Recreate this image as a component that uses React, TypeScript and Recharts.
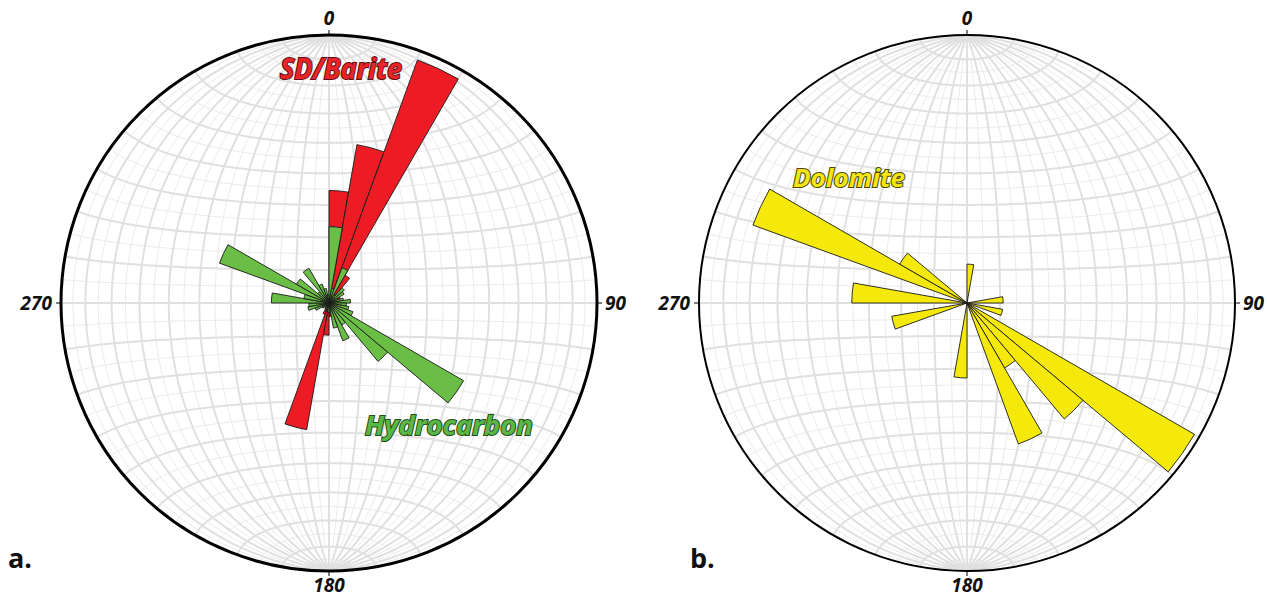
import { RadialBarChart, RadialBar, PolarAngleAxis, PolarRadiusAxis } from "recharts";

// strike bins, 10 degree classes clockwise from north
const directions = [
  "0", "10", "20", "30", "40", "50", "60", "70", "80", "90", "100", "110",
  "120", "130", "140", "150", "160", "170", "180", "190", "200", "210", "220", "230",
  "240", "250", "260", "270", "280", "290", "300", "310", "320", "330", "340", "350"
];

// frequency (%) per bin
const sdBarite = [
  8.4, 12.0, 19.3, 2.4, 1.1, 0, 0.9, 0, 0, 0, 0, 0,
  0, 0, 0, 0, 0, 1.0, 2.4, 9.6, 0.9, 0.5, 0, 0,
  0, 0, 0, 0, 0, 0, 0, 0, 0, 0, 0, 0
];
const hydrocarbon = [
  5.7, 1.1, 2.8, 0.7, 1.5, 1.3, 0.7, 1.1, 1.6, 1.3, 1.5, 1.9,
  11.6, 5.7, 1.9, 3.0, 1.9, 0.7, 0.7, 0.4, 0.6, 0.4, 0.4, 0.6,
  1.1, 1.6, 1.5, 4.3, 1.9, 8.7, 2.8, 1.1, 3.0, 1.5, 1.1, 0.6
];
const dolomite = [
  2.9, 0, 0, 0, 0, 0, 0, 0, 2.7, 0, 2.7, 0,
  19.6, 11.3, 5.6, 11.2, 0, 0, 5.6, 0, 0, 0, 0, 0,
  0, 5.7, 0, 8.6, 0, 17.0, 5.8, 0, 0, 0, 0, 0
];

const cardinalLabels = ["0", "90", "180", "270"];
const maxFreq = 20;

const W = 1267;
const H = 597;
const R = 268;
const panelA = { cx: 329, cy: 303 };
const panelB = { cx: 967, cy: 303 };

const roseA = directions.map((dir, i) => ({ dir, barite: sdBarite[i], hydro: hydrocarbon[i] }));
const roseB = directions.map((dir, i) => ({ dir, dolo: dolomite[i] }));

const rad = (d: number) => (d * Math.PI) / 180;

// Schmidt (equal-area) net, lower hemisphere, N-S axis vertical
function netPaths(cx: number, cy: number, r: number) {
  const major: string[] = [];
  const minor: string[] = [];
  const proj = (e: number, n: number, d: number) => {
    const k = r / Math.sqrt(1 + d);
    return `${(cx + e * k).toFixed(2)},${(cy - n * k).toFixed(2)}`;
  };
  for (let t = 5; t < 180; t += 5) {
    const isMajor = t % 10 === 0;
    const pts: string[] = [];
    const from = isMajor ? 0 : 10;
    const to = isMajor ? 180 : 170;
    for (let p = from; p <= to; p += 2) {
      const s = Math.sin(rad(p));
      pts.push(proj(s * Math.cos(rad(t)), Math.cos(rad(p)), s * Math.sin(rad(t))));
    }
    (isMajor ? major : minor).push("M" + pts.join("L"));
  }
  for (let a = 5; a < 180; a += 5) {
    const isMajor = a % 10 === 0;
    const pts: string[] = [];
    for (let q = 0; q <= 180; q += 2) {
      const s = Math.sin(rad(a));
      pts.push(proj(s * Math.cos(rad(q)), Math.cos(rad(a)), s * Math.sin(rad(q))));
    }
    (isMajor ? major : minor).push("M" + pts.join("L"));
  }
  return { major: major.join(" "), minor: minor.join(" ") };
}

function Net({ cx, cy, width }: { cx: number; cy: number; width: number }) {
  const { major, minor } = netPaths(cx, cy, R);
  return (
    <g>
      <circle cx={cx} cy={cy} r={R} fill="#fff" />
      <path d={minor} fill="none" stroke="#ebebeb" strokeWidth={1} />
      <path d={major} fill="none" stroke="#e0e0e0" strokeWidth={2} />
      <line x1={cx} y1={cy - R} x2={cx} y2={cy + R} stroke="#e0e0e0" strokeWidth={2} />
      <circle cx={cx} cy={cy} r={R} fill="none" stroke="#000" strokeWidth={width} />
      <line x1={cx} y1={cy - R - 5} x2={cx} y2={cy - R} stroke="#000" strokeWidth={1} />
      <line x1={cx} y1={cy + R} x2={cx} y2={cy + R + 5} stroke="#000" strokeWidth={1} />
      <line x1={cx - R - 5} y1={cy} x2={cx - R} y2={cy} stroke="#000" strokeWidth={1} />
      <line x1={cx + R} y1={cy} x2={cx + R + 5} y2={cy} stroke="#000" strokeWidth={1} />
    </g>
  );
}

function Cardinals({ cx, cy }: { cx: number; cy: number }) {
  const st = { fontFamily: "'Open Sans', sans-serif", fontWeight: 700, fontStyle: "italic", fontSize: 19, fill: "#111" };
  return (
    <g style={st as any}>
      <text x={cx} y={cy - R - 10} textAnchor="middle">{cardinalLabels[0]}</text>
      <text x={cx + R + 8} y={cy + 7} textAnchor="start">{cardinalLabels[1]}</text>
      <text x={cx} y={cy + R + 21} textAnchor="middle">{cardinalLabels[2]}</text>
      <text x={cx - R - 9} y={cy + 7} textAnchor="end">{cardinalLabels[3]}</text>
    </g>
  );
}

function Rose({ data, dataKey, cx, cy, fill }: any) {
  return (
    <div style={{ position: "absolute", left: 0, top: 0 }}>
      <RadialBarChart
        width={W}
        height={H}
        data={data}
        cx={cx}
        cy={cy}
        innerRadius={0}
        outerRadius={R}
        startAngle={80}
        endAngle={-280}
        layout="centric"
        barCategoryGap={0}
        barGap={0}
        margin={{ top: 0, right: 0, bottom: 0, left: 0 }}
      >
        <PolarAngleAxis dataKey="dir" type="category" tick={false} axisLine={false} tickLine={false} />
        <PolarRadiusAxis type="number" domain={[0, maxFreq]} tick={false} axisLine={false} />
        <RadialBar dataKey={dataKey} fill={fill} stroke="#1a1a1a" strokeWidth={0.9} isAnimationActive={false} />
      </RadialBarChart>
    </div>
  );
}

const labelStyle = {
  fontFamily: "'Open Sans', sans-serif",
  fontWeight: 700,
  fontStyle: "italic",
  paintOrder: "stroke",
} as any;

export default function App() {
  return (
    <div style={{ position: "relative", width: W, height: H, background: "#fff", overflow: "hidden" }}>
      <style>{`body{margin:0}`}</style>
      <svg width={W} height={H} style={{ position: "absolute", left: 0, top: 0 }}>
        <Net cx={panelA.cx} cy={panelA.cy} width={3} />
        <Net cx={panelB.cx} cy={panelB.cy} width={2} />
      </svg>

      <Rose data={roseA} dataKey="barite" cx={panelA.cx} cy={panelA.cy} fill="#ed1c24" />
      <Rose data={roseA} dataKey="hydro" cx={panelA.cx} cy={panelA.cy} fill="#6abd45" />
      <Rose data={roseB} dataKey="dolo" cx={panelB.cx} cy={panelB.cy} fill="#f5e90c" />

      <svg width={W} height={H} style={{ position: "absolute", left: 0, top: 0, pointerEvents: "none" }}>
        <Cardinals cx={panelA.cx} cy={panelA.cy} />
        <Cardinals cx={panelB.cx} cy={panelB.cy} />
        <text x={280} y={79} fontSize={29} textLength={122} lengthAdjust="spacingAndGlyphs"
          fill="#e8242a" stroke="#5c0d0d" strokeWidth={2} style={labelStyle}>SD/Barite</text>
        <text x={365} y={435} fontSize={27} textLength={168} lengthAdjust="spacingAndGlyphs"
          fill="#5cb646" stroke="#1f4f14" strokeWidth={2} style={labelStyle}>Hydrocarbon</text>
        <text x={793} y={187} fontSize={25} textLength={112} lengthAdjust="spacingAndGlyphs"
          fill="#f3e614" stroke="#4d4500" strokeWidth={2} style={labelStyle}>Dolomite</text>
        <text x={8} y={568} fontSize={27} fontWeight={700} fontFamily="'Open Sans', sans-serif" fill="#111">a.</text>
        <text x={690} y={568} fontSize={27} fontWeight={700} fontFamily="'Open Sans', sans-serif" fill="#111">b.</text>
      </svg>
    </div>
  );
}
